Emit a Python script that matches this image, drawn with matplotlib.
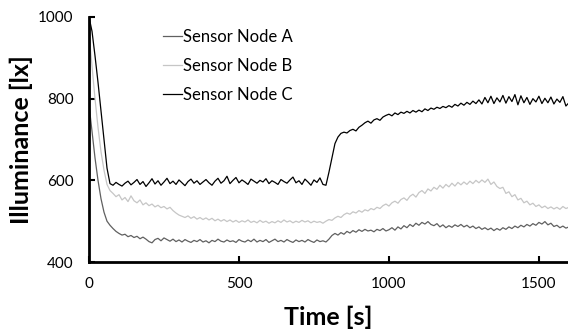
import numpy as np
import matplotlib
matplotlib.use("Agg")
import matplotlib.pyplot as plt

plt.rcParams['font.family'] = ['Lato', 'DejaVu Sans']

# sampled every 10 s from 0 to 1600 s
node_a = [
    785, 720, 655, 600, 555, 522, 500, 490, 482, 475,
    470, 466, 468, 462, 465, 460, 463, 457, 461, 456,
    450, 447, 455, 458, 452, 459, 455, 451, 456, 450,
    454, 449, 455, 451, 448, 453, 450, 455, 449, 452,
    447, 453, 450, 456, 451, 449, 454, 450, 452, 448,
    455, 451, 449, 454, 450, 456, 449, 453, 450, 455,
    448, 452, 456, 450, 453, 449, 455, 451, 448, 454,
    450, 453, 449, 455, 451, 448, 454, 450, 452, 449,
    456, 465, 470, 466, 472, 468, 475, 471, 477, 473,
    479, 475, 480, 476, 478, 474, 480, 477, 482, 476,
    479, 484, 478, 486, 481, 489, 484, 492, 487, 495,
    490, 497, 493, 499, 492, 489, 494, 486, 491, 484,
    489, 485, 491, 487, 492, 486, 490, 484, 488, 482,
    486, 480, 484, 479, 483, 477, 482, 478, 484, 480,
    486, 482, 488, 484, 490, 486, 492, 488, 494, 490,
    497, 493, 499, 491, 495, 487, 490, 484, 488, 483,
    486,
]
node_b = [
    960, 880, 800, 730, 670, 625, 590, 575, 568, 560,
    565, 552, 558, 548, 562, 550, 545, 552, 540, 545,
    538, 542, 535, 539, 533, 536, 530, 534, 526, 520,
    515, 512, 509, 513, 507, 511, 505, 509, 504, 508,
    503, 507, 501, 505, 500, 504, 499, 503, 498, 502,
    497, 501, 498, 503, 497, 500, 496, 502, 497, 500,
    495, 499, 496, 501, 497, 503, 498, 501, 496, 500,
    497, 502, 498, 501, 496, 500, 497, 499, 495, 500,
    504, 502, 508, 512, 509, 516, 520, 517, 523, 520,
    526, 522, 528, 525, 531, 528, 534, 531, 538, 542,
    537, 545, 549, 544, 553, 557, 551, 561, 566, 559,
    570, 575, 568, 579, 574, 583, 578, 588, 581, 590,
    584, 593, 586, 595, 589, 596, 590, 598, 592, 600,
    594, 601, 595, 603, 590, 596, 585, 580, 583, 568,
    572, 560, 565, 552, 556, 545, 549, 540, 544, 536,
    540, 533, 537, 531, 535, 530, 534, 529, 536, 531,
    534,
]
node_c = [
    1000, 965, 905, 840, 770, 700, 630, 592, 588, 595,
    590, 586, 593, 598, 589, 595, 602, 590, 597, 585,
    594, 604, 591, 599, 588, 596, 605, 592, 598, 590,
    601, 594, 587, 597, 603, 593, 599, 590, 596, 602,
    594, 588, 598, 605, 593, 599, 610, 592, 600, 607,
    594, 601, 596, 590, 603, 598, 593, 600, 596, 604,
    592, 599, 595, 590, 602, 597, 593, 601, 608, 594,
    599, 590, 603, 596, 588, 601, 595, 606, 590, 588,
    620, 655, 690, 706, 715, 718, 716, 722, 725, 721,
    730, 735, 741, 745, 740, 748, 751, 747, 755, 759,
    762, 758, 765, 761, 767, 764, 769, 765, 771, 767,
    772, 768, 775, 771, 777, 774, 779, 776, 781, 778,
    783, 779, 786, 782, 789, 784, 791, 786, 794, 788,
    797, 787, 803, 790, 806, 788, 802, 792, 808, 789,
    805, 793, 810, 785, 807, 790, 803, 786, 800, 792,
    806, 788, 801, 790, 804, 787, 799, 791, 805, 782,
    790,
]
labels = ["Sensor Node A", "Sensor Node B", "Sensor Node C"]
x_ticks = [0, 500, 1000, 1500]
y_ticks = [400, 600, 800, 1000]

time = np.arange(len(node_c)) * 10

fig = plt.figure(figsize=(5.68, 3.30), dpi=100)
ax = fig.add_axes([0.1567, 0.206, 0.8433, 0.7425])

ax.plot(time, node_a, color="#606060", lw=0.9, label=labels[0])
ax.plot(time, node_b, color="#c6c6c6", lw=0.9, label=labels[1])
ax.plot(time, node_c, color="#000000", lw=0.9, label=labels[2])

ax.set_xlim(0, 1597)
ax.set_ylim(400, 1000)
ax.set_xticks(x_ticks)
ax.set_yticks(y_ticks)
for s in ["top", "right"]:
    ax.spines[s].set_visible(False)
for s in ["left", "bottom"]:
    ax.spines[s].set_linewidth(2)
ax.tick_params(direction="in", length=4, width=1.5, labelsize=11)
ax.tick_params(axis="x", pad=11)
ax.tick_params(axis="y", pad=11)

ax.set_xlabel("Time [s]", fontsize=18, fontweight="bold", labelpad=10)
ax.set_ylabel("Illuminance [lx]", fontsize=18, fontweight="bold", labelpad=4)

leg = ax.legend(loc="upper left", bbox_to_anchor=(0.14, 0.98), frameon=False,
                fontsize=12, handlelength=1.15, handletextpad=0.08,
                labelspacing=0.8, borderaxespad=0)

fig.savefig("out.png", dpi=100)
